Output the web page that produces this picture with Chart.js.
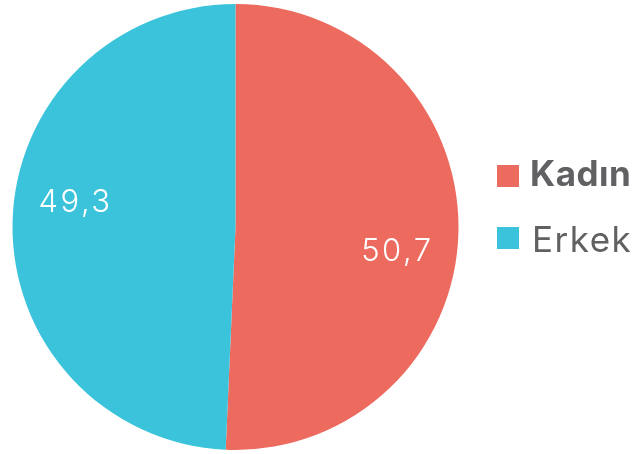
<!DOCTYPE html>
<html>
<head>
<meta charset="utf-8">
<script src="https://cdn.jsdelivr.net/npm/chart.js@4"></script>
<style>
html,body{margin:0;padding:0;background:#fff;}
#wrap{position:relative;width:637px;height:454px;}
</style>
</head>
<body>
<div id="wrap"><canvas id="c" width="637" height="454"></canvas></div>
<script>
const categories = ["Kadın", "Erkek"];
const values = [50.7, 49.3];
const valueLabels = ["50,7", "49,3"];
const colors = ["#EC6A5E", "#3AC3DB"];

const labelPlugin = {
  id: 'sliceLabels',
  afterDatasetsDraw(chart) {
    const ctx = chart.ctx;
    const meta = chart.getDatasetMeta(0);
    ctx.save();
    ctx.fillStyle = '#ffffff';
    ctx.font = '300 31px Inter';
    ctx.letterSpacing = '2.5px';
    ctx.textAlign = 'center';
    ctx.textBaseline = 'middle';
    meta.data.forEach((arc, i) => {
      const p = arc.getProps(['x','y','startAngle','endAngle','outerRadius'], true);
      const mid = (p.startAngle + p.endAngle) / 2 + 0.13;
      const d = p.outerRadius * 0.73;
      ctx.fillText(valueLabels[i], p.x + Math.cos(mid) * d + 1, p.y + Math.sin(mid) * d);
    });
    ctx.restore();
  }
};

const legendPlugin = {
  id: 'customLegend',
  afterDraw(chart) {
    const ctx = chart.ctx;
    const x0 = 497, ys = [176, 238], bases = [186, 252];
    ctx.save();
    chart.data.labels.forEach((lab, i) => {
      ctx.fillStyle = chart.data.datasets[0].backgroundColor[i];
      ctx.fillRect(x0, ys[i] - 11, 22, 22);
      ctx.fillStyle = '#616164';
      ctx.font = (i === 0 ? '700 ' : '400 ') + '35px Inter';
      ctx.letterSpacing = i === 0 ? '0.5px' : '1.5px';
      ctx.textBaseline = 'alphabetic';
      ctx.textAlign = 'left';
      ctx.fillText(lab, i === 0 ? 530 : 532, bases[i]);
    });
    ctx.restore();
  }
};

new Chart(document.getElementById('c'), {
  type: 'pie',
  data: {
    labels: categories,
    datasets: [{
      data: values,
      backgroundColor: colors,
      borderWidth: 0
    }]
  },
  options: {
    responsive: false,
    animation: false,
    layout: { padding: { left: 12, right: 178, top: 4, bottom: 4 } },
    plugins: {
      legend: { display: false },
      tooltip: { enabled: false }
    }
  },
  plugins: [labelPlugin, legendPlugin]
});
</script>
</body>
</html>
